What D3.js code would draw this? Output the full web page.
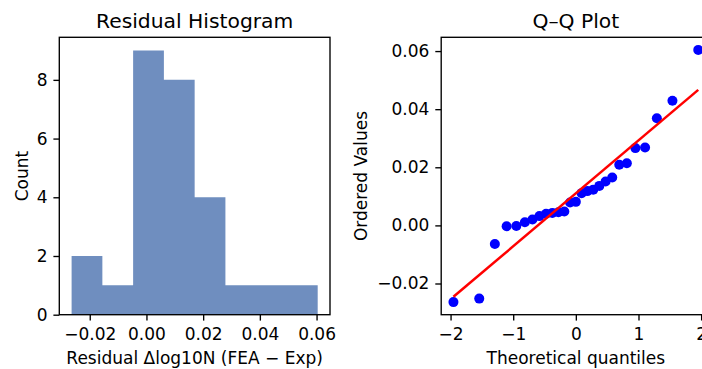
<!DOCTYPE html>
<html>
<head>
<meta charset="utf-8">
<script src="https://cdn.jsdelivr.net/npm/d3@7"></script>
<style>
  body { margin: 0; background: #fff; }
  svg { display: block; font-family: "DejaVu Sans", sans-serif; }
</style>
</head>
<body>
<svg id="chart" width="702" height="369"></svg>
<script>
// data
const theoreticalQuantiles = [
  -1.954, -1.542, -1.293, -1.105, -0.950, -0.814, -0.693, -0.581, -0.475,
  -0.375, -0.278, -0.184, -0.092, 0.000, 0.092, 0.184, 0.278, 0.375,
  0.475, 0.581, 0.693, 0.814, 0.950, 1.105, 1.293, 1.542, 1.954
];
const orderedResiduals = [
  -0.0264, -0.0252, -0.0064, -0.0003, -0.0002, 0.0011, 0.0020, 0.0032, 0.0040,
  0.0043, 0.0045, 0.0048, 0.0079, 0.0081, 0.0111, 0.0118, 0.0123, 0.0136,
  0.0151, 0.0165, 0.0209, 0.0214, 0.0266, 0.0268, 0.0369, 0.0429, 0.0604
];
const histBinCount = 8;
const histXTicks = [-0.02, 0.00, 0.02, 0.04, 0.06];
const histYTicks = [0, 2, 4, 6, 8];
const qqXTicks = [-2, -1, 0, 1, 2];
const qqYTicks = [-0.02, 0.00, 0.02, 0.04, 0.06];

// configs
const FONT_TICK = 17;
const FONT_TITLE = 20.3;
const TICK_LEN = 5.9;
const LINE_W = 1.36;
const HIST_FILL = '#6f8ebf';
const MINUS = '\u2212';

const svg = d3.select('#chart');
svg.append('rect').attr('width', 702).attr('height', 369).attr('fill', '#fff');

const fmt = (digits) => v => {
  const s = d3.format(`.${digits}f`)(Math.abs(v));
  return (v < 0 ? MINUS : '') + s;
};
const intFmt = v => (v < 0 ? MINUS : '') + Math.abs(v);

// matplotlib style axes (ticks out, boxed spines)
function drawAxes(g, x, y, box, opts) {
  const xAxis = d3.axisBottom(x).tickValues(opts.xTicks).tickFormat(opts.xFmt)
    .tickSizeInner(TICK_LEN).tickSizeOuter(0).tickPadding(7.8);
  const yAxis = d3.axisLeft(y).tickValues(opts.yTicks).tickFormat(opts.yFmt)
    .tickSizeInner(TICK_LEN).tickSizeOuter(0).tickPadding(5.9);

  const gx = g.append('g').attr('transform', `translate(0,${box.bottom})`).call(xAxis);
  const gy = g.append('g').attr('transform', `translate(${box.left},0)`).call(yAxis);
  [gx, gy].forEach(a => {
    a.attr('font-family', null).attr('font-size', null);
    a.select('.domain').remove();
    a.selectAll('.tick line').attr('stroke', '#000').attr('stroke-width', LINE_W);
    a.selectAll('.tick text').style('font-size', FONT_TICK + 'px').attr('fill', '#000');
  });

  g.append('rect')
    .attr('x', box.left).attr('y', box.top)
    .attr('width', box.right - box.left).attr('height', box.bottom - box.top)
    .attr('fill', 'none').attr('stroke', '#000').attr('stroke-width', LINE_W);

  const cx = (box.left + box.right) / 2;
  g.append('text').attr('x', cx).attr('y', 27.7)
    .attr('text-anchor', 'middle').style('font-size', FONT_TITLE + 'px')
    .text(opts.title);
  g.append('text').attr('x', cx).attr('y', 364)
    .attr('text-anchor', 'middle').style('font-size', FONT_TICK + 'px')
    .text(opts.xLabel);
  g.append('text')
    .attr('transform', `translate(${opts.yLabelX},${(box.top + box.bottom) / 2}) rotate(-90)`)
    .attr('text-anchor', 'middle').style('font-size', FONT_TICK + 'px')
    .text(opts.yLabel);
}

// histogram
{
  const box = { left: 59.3, right: 330, top: 37.3, bottom: 314.7 };
  const lo = d3.min(orderedResiduals), hi = d3.max(orderedResiduals);
  const w = (hi - lo) / histBinCount;
  const counts = new Array(histBinCount).fill(0);
  orderedResiduals.forEach(v => {
    counts[Math.min(histBinCount - 1, Math.floor((v - lo) / w))]++;
  });
  // step outline: each bin start, plus the closing edge
  const steps = counts.map((c, i) => ({ x: lo + i * w, count: c }));
  steps.push({ x: hi, count: counts[counts.length - 1] });

  const pad = (hi - lo) * 0.05;
  const x = d3.scaleLinear().domain([lo - pad, hi + pad]).range([box.left, box.right]);
  const y = d3.scaleLinear().domain([0, d3.max(counts) * 1.05]).range([box.bottom, box.top]);

  const g = svg.append('g');
  g.append('path')
    .datum(steps)
    .attr('d', d3.area().curve(d3.curveStepAfter)
      .x(d => x(d.x)).y0(y(0)).y1(d => y(d.count)))
    .attr('fill', HIST_FILL);

  drawAxes(g, x, y, box, {
    xTicks: histXTicks, xFmt: fmt(2), yTicks: histYTicks, yFmt: d3.format('d'),
    title: 'Residual Histogram', xLabel: 'Residual \u0394log10N (FEA \u2212 Exp)',
    yLabel: 'Count', yLabelX: 27.5
  });
}

// Q-Q plot
{
  const box = { left: 441.2, right: 710.5, top: 37.3, bottom: 314.7 };
  // least squares fit of ordered values vs theoretical quantiles
  const mx = d3.mean(theoreticalQuantiles), my = d3.mean(orderedResiduals);
  let sxy = 0, sxx = 0;
  theoreticalQuantiles.forEach((q, i) => {
    sxy += (q - mx) * (orderedResiduals[i] - my);
    sxx += (q - mx) * (q - mx);
  });
  const slope = sxy / sxx, intercept = my - slope * mx;
  const qLo = d3.min(theoreticalQuantiles), qHi = d3.max(theoreticalQuantiles);
  const fitLine = [qLo, qHi].map(q => [q, intercept + slope * q]);

  const allY = orderedResiduals.concat(fitLine.map(d => d[1]));
  const yLo = d3.min(allY), yHi = d3.max(allY);
  const xPad = (qHi - qLo) * 0.05, yPad = (yHi - yLo) * 0.05;
  const x = d3.scaleLinear().domain([qLo - xPad, qHi + xPad]).range([box.left, box.right]);
  const y = d3.scaleLinear().domain([yLo - yPad, yHi + yPad]).range([box.bottom, box.top]);

  const g = svg.append('g');
  g.append('g').selectAll('circle').data(theoreticalQuantiles).join('circle')
    .attr('cx', d => x(d))
    .attr('cy', (d, i) => y(orderedResiduals[i]))
    .attr('r', 5)
    .attr('fill', '#0000ff');

  g.append('path')
    .datum(fitLine)
    .attr('d', d3.line().x(d => x(d[0])).y(d => y(d[1])))
    .attr('stroke', '#ff0000').attr('stroke-width', 2.5).attr('fill', 'none');

  drawAxes(g, x, y, box, {
    xTicks: qqXTicks, xFmt: intFmt, yTicks: qqYTicks, yFmt: fmt(2),
    title: 'Q\u2013Q Plot', xLabel: 'Theoretical quantiles',
    yLabel: 'Ordered Values', yLabelX: 367
  });
}
</script>
</body>
</html>
